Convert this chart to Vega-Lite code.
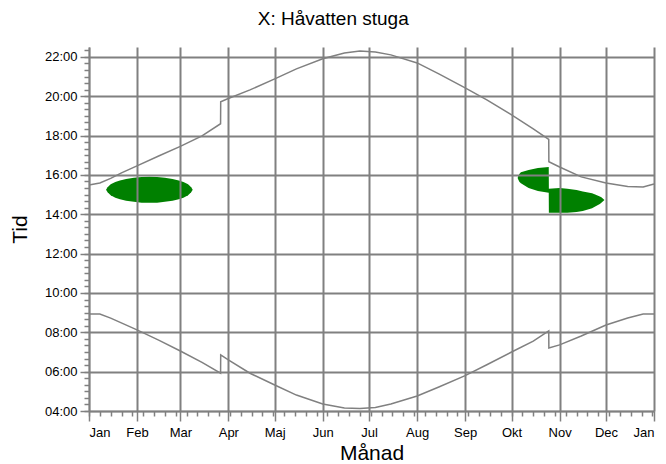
{
  "$schema": "https://vega.github.io/schema/vega-lite/v6.json",
  "autosize": {"type": "none"},
  "width": 565,
  "height": 364,
  "padding": {"left": 89, "top": 47, "right": 12, "bottom": 53},
  "background": "white",
  "title": {"text": "X: Håvatten stuga", "font": "Liberation Sans", "fontSize": 19, "fontWeight": "normal", "color": "black", "anchor": "middle", "frame": "bounds", "offset": 18},
  "config": {
    "view": {"stroke": null},
    "axis": {
      "domainColor": "#808080", "domainWidth": 1.5,
      "tickColor": "#808080", "tickWidth": 1.5,
      "gridColor": "#808080", "gridWidth": 2, "gridOpacity": 1,
      "labelFont": "Liberation Sans", "labelFontSize": 13, "labelColor": "black",
      "titleFont": "Liberation Sans", "titleFontSize": 21, "titleFontWeight": "normal", "titleColor": "black"
    }
  },
  "datasets": {
    "curves": [
      {"date": "2023-01-01", "time": 15.49, "curve": "upp"},
      {"date": "2023-01-08", "time": 15.59, "curve": "upp"},
      {"date": "2023-01-15", "time": 15.82, "curve": "upp"},
      {"date": "2023-01-22", "time": 16.10, "curve": "upp"},
      {"date": "2023-02-01", "time": 16.46, "curve": "upp"},
      {"date": "2023-02-15", "time": 16.96, "curve": "upp"},
      {"date": "2023-03-01", "time": 17.45, "curve": "upp"},
      {"date": "2023-03-15", "time": 17.98, "curve": "upp"},
      {"date": "2023-03-27T00:00:00Z", "time": 18.60, "curve": "upp"},
      {"date": "2023-03-27T02:00:00Z", "time": 19.72, "curve": "upp"},
      {"date": "2023-04-01", "time": 19.88, "curve": "upp"},
      {"date": "2023-04-15", "time": 20.32, "curve": "upp"},
      {"date": "2023-05-01", "time": 20.88, "curve": "upp"},
      {"date": "2023-05-15", "time": 21.39, "curve": "upp"},
      {"date": "2023-06-01", "time": 21.90, "curve": "upp"},
      {"date": "2023-06-15", "time": 22.20, "curve": "upp"},
      {"date": "2023-06-25", "time": 22.30, "curve": "upp"},
      {"date": "2023-07-05", "time": 22.25, "curve": "upp"},
      {"date": "2023-07-15", "time": 22.10, "curve": "upp"},
      {"date": "2023-08-01", "time": 21.69, "curve": "upp"},
      {"date": "2023-08-15", "time": 21.13, "curve": "upp"},
      {"date": "2023-09-01", "time": 20.42, "curve": "upp"},
      {"date": "2023-09-15", "time": 19.81, "curve": "upp"},
      {"date": "2023-10-01", "time": 19.05, "curve": "upp"},
      {"date": "2023-10-15", "time": 18.34, "curve": "upp"},
      {"date": "2023-10-25T00:00:00Z", "time": 17.80, "curve": "upp"},
      {"date": "2023-10-25T02:00:00Z", "time": 16.67, "curve": "upp"},
      {"date": "2023-11-01", "time": 16.40, "curve": "upp"},
      {"date": "2023-11-15", "time": 15.90, "curve": "upp"},
      {"date": "2023-12-01", "time": 15.59, "curve": "upp"},
      {"date": "2023-12-15", "time": 15.41, "curve": "upp"},
      {"date": "2023-12-25", "time": 15.39, "curve": "upp"},
      {"date": "2024-01-01", "time": 15.54, "curve": "upp"},
      {"date": "2023-01-01", "time": 8.93, "curve": "ned"},
      {"date": "2023-01-08", "time": 8.93, "curve": "ned"},
      {"date": "2023-01-15", "time": 8.72, "curve": "ned"},
      {"date": "2023-02-01", "time": 8.12, "curve": "ned"},
      {"date": "2023-02-15", "time": 7.60, "curve": "ned"},
      {"date": "2023-03-01", "time": 7.05, "curve": "ned"},
      {"date": "2023-03-15", "time": 6.47, "curve": "ned"},
      {"date": "2023-03-27T00:00:00Z", "time": 5.92, "curve": "ned"},
      {"date": "2023-03-27T02:00:00Z", "time": 6.85, "curve": "ned"},
      {"date": "2023-04-01", "time": 6.60, "curve": "ned"},
      {"date": "2023-04-15", "time": 5.92, "curve": "ned"},
      {"date": "2023-05-01", "time": 5.32, "curve": "ned"},
      {"date": "2023-05-15", "time": 4.81, "curve": "ned"},
      {"date": "2023-06-01", "time": 4.36, "curve": "ned"},
      {"date": "2023-06-15", "time": 4.15, "curve": "ned"},
      {"date": "2023-06-25", "time": 4.13, "curve": "ned"},
      {"date": "2023-07-05", "time": 4.18, "curve": "ned"},
      {"date": "2023-07-15", "time": 4.36, "curve": "ned"},
      {"date": "2023-08-01", "time": 4.76, "curve": "ned"},
      {"date": "2023-08-15", "time": 5.22, "curve": "ned"},
      {"date": "2023-09-01", "time": 5.80, "curve": "ned"},
      {"date": "2023-09-15", "time": 6.35, "curve": "ned"},
      {"date": "2023-10-01", "time": 7.00, "curve": "ned"},
      {"date": "2023-10-15", "time": 7.55, "curve": "ned"},
      {"date": "2023-10-25T00:00:00Z", "time": 8.07, "curve": "ned"},
      {"date": "2023-10-25T02:00:00Z", "time": 7.20, "curve": "ned"},
      {"date": "2023-11-01", "time": 7.36, "curve": "ned"},
      {"date": "2023-11-15", "time": 7.81, "curve": "ned"},
      {"date": "2023-12-01", "time": 8.37, "curve": "ned"},
      {"date": "2023-12-15", "time": 8.73, "curve": "ned"},
      {"date": "2023-12-25", "time": 8.93, "curve": "ned"},
      {"date": "2024-01-01", "time": 8.93, "curve": "ned"}
    ],
    "shadow": [
      {"date": "2023-01-12", "lo": 15.24, "hi": 15.24, "blob": "a"},
      {"date": "2023-01-13", "lo": 15.12, "hi": 15.37, "blob": "a"},
      {"date": "2023-01-15", "lo": 14.97, "hi": 15.52, "blob": "a"},
      {"date": "2023-01-18", "lo": 14.84, "hi": 15.64, "blob": "a"},
      {"date": "2023-01-21", "lo": 14.76, "hi": 15.72, "blob": "a"},
      {"date": "2023-01-25", "lo": 14.69, "hi": 15.79, "blob": "a"},
      {"date": "2023-01-30", "lo": 14.63, "hi": 15.86, "blob": "a"},
      {"date": "2023-02-04", "lo": 14.59, "hi": 15.89, "blob": "a"},
      {"date": "2023-02-09", "lo": 14.58, "hi": 15.90, "blob": "a"},
      {"date": "2023-02-14", "lo": 14.59, "hi": 15.89, "blob": "a"},
      {"date": "2023-02-19", "lo": 14.63, "hi": 15.86, "blob": "a"},
      {"date": "2023-02-24", "lo": 14.69, "hi": 15.79, "blob": "a"},
      {"date": "2023-02-28", "lo": 14.76, "hi": 15.72, "blob": "a"},
      {"date": "2023-03-03", "lo": 14.84, "hi": 15.64, "blob": "a"},
      {"date": "2023-03-06", "lo": 14.97, "hi": 15.52, "blob": "a"},
      {"date": "2023-03-08", "lo": 15.12, "hi": 15.37, "blob": "a"},
      {"date": "2023-03-09", "lo": 15.24, "hi": 15.24, "blob": "a"},
      {"date": "2023-10-05", "lo": 15.82, "hi": 15.88, "blob": "b"},
      {"date": "2023-10-06", "lo": 15.65, "hi": 16.05, "blob": "b"},
      {"date": "2023-10-07", "lo": 15.57, "hi": 16.13, "blob": "b"},
      {"date": "2023-10-12", "lo": 15.34, "hi": 16.25, "blob": "b"},
      {"date": "2023-10-18", "lo": 15.18, "hi": 16.35, "blob": "b"},
      {"date": "2023-10-25T00:00:00Z", "lo": 15.09, "hi": 16.40, "blob": "b"},
      {"date": "2023-10-25T02:00:00Z", "lo": 14.07, "hi": 15.29, "blob": "b"},
      {"date": "2023-11-01", "lo": 14.07, "hi": 15.34, "blob": "b"},
      {"date": "2023-11-06", "lo": 14.07, "hi": 15.29, "blob": "b"},
      {"date": "2023-11-12", "lo": 14.12, "hi": 15.23, "blob": "b"},
      {"date": "2023-11-16", "lo": 14.17, "hi": 15.16, "blob": "b"},
      {"date": "2023-11-22", "lo": 14.30, "hi": 15.07, "blob": "b"},
      {"date": "2023-11-24", "lo": 14.39, "hi": 15.00, "blob": "b"},
      {"date": "2023-11-27", "lo": 14.52, "hi": 14.90, "blob": "b"},
      {"date": "2023-11-28", "lo": 14.59, "hi": 14.86, "blob": "b"},
      {"date": "2023-11-30", "lo": 14.73, "hi": 14.73, "blob": "b"}
    ]
  },
  "layer": [
    {
      "data": {"name": "shadow"},
      "mark": {"type": "area", "color": "#008000", "opacity": 1, "interpolate": "linear"},
      "encoding": {
        "x": {"field": "date", "type": "temporal",
          "scale": {"type": "utc", "domain": [1672531200000, 1704067200000], "nice": false},
          "axis": {"orient": "bottom", "title": null, "labels": false, "grid": false, "domain": false, "tickSize": 5,
            "values": [1672531200000,1673136000000,1673740800000,1674345600000,1674950400000,1675555200000,1676160000000,1676764800000,1677369600000,1677974400000,1678579200000,1679184000000,1679788800000,1680393600000,1680998400000,1681603200000,1682208000000,1682812800000,1683417600000,1684022400000,1684627200000,1685232000000,1685836800000,1686441600000,1687046400000,1687651200000,1688256000000,1688860800000,1689465600000,1690070400000,1690675200000,1691280000000,1691884800000,1692489600000,1693094400000,1693699200000,1694304000000,1694908800000,1695513600000,1696118400000,1696723200000,1697328000000,1697932800000,1698537600000,1699142400000,1699747200000,1700352000000,1700956800000,1701561600000,1702166400000,1702771200000,1703376000000,1703980800000]}},
        "y": {"field": "lo", "type": "quantitative",
          "scale": {"domain": [4, 22.5], "nice": false, "zero": false},
          "axis": {"orient": "left", "title": null, "labels": false, "grid": false, "domain": false, "tickSize": 5,
            "values": [4,4.3333,4.6667,5,5.3333,5.6667,6,6.3333,6.6667,7,7.3333,7.6667,8,8.3333,8.6667,9,9.3333,9.6667,10,10.3333,10.6667,11,11.3333,11.6667,12,12.3333,12.6667,13,13.3333,13.6667,14,14.3333,14.6667,15,15.3333,15.6667,16,16.3333,16.6667,17,17.3333,17.6667,18,18.3333,18.6667,19,19.3333,19.6667,20,20.3333,20.6667,21,21.3333,21.6667,22,22.3333]}},
        "y2": {"field": "hi"},
        "detail": {"field": "blob"}
      }
    },
    {
      "data": {"name": "curves"},
      "mark": {"type": "line", "color": "#808080", "strokeWidth": 1.5},
      "encoding": {
        "x": {"field": "date", "type": "temporal",
          "scale": {"type": "utc", "domain": [1672531200000, 1704067200000], "nice": false},
          "axis": {"orient": "bottom", "title": "Månad", "grid": true, "zindex": 1, "tickSize": 10, "labelPadding": 5, "titlePadding": 3,
            "values": [1672531200000,1675209600000,1677628800000,1680307200000,1682899200000,1685577600000,1688169600000,1690848000000,1693526400000,1696118400000,1698796800000,1701388800000,1704067200000],
            "labelExpr": "['Jan','Feb','Mar','Apr','Maj','Jun','Jul','Aug','Sep','Okt','Nov','Dec'][utcmonth(datum.value)]"}},
        "y": {"field": "time", "type": "quantitative",
          "scale": {"domain": [4, 22.5], "nice": false, "zero": false},
          "axis": {"orient": "left", "title": "Tid", "grid": true, "zindex": 1, "tickSize": 9, "labelPadding": 3, "titlePadding": 14,
            "values": [4,6,8,10,12,14,16,18,20,22],
            "labelExpr": "(datum.value < 10 ? '0' : '') + datum.value + ':00'"}},
        "detail": {"field": "curve"}
      }
    }
  ],
  "resolve": {"axis": {"x": "independent", "y": "independent"}}
}
